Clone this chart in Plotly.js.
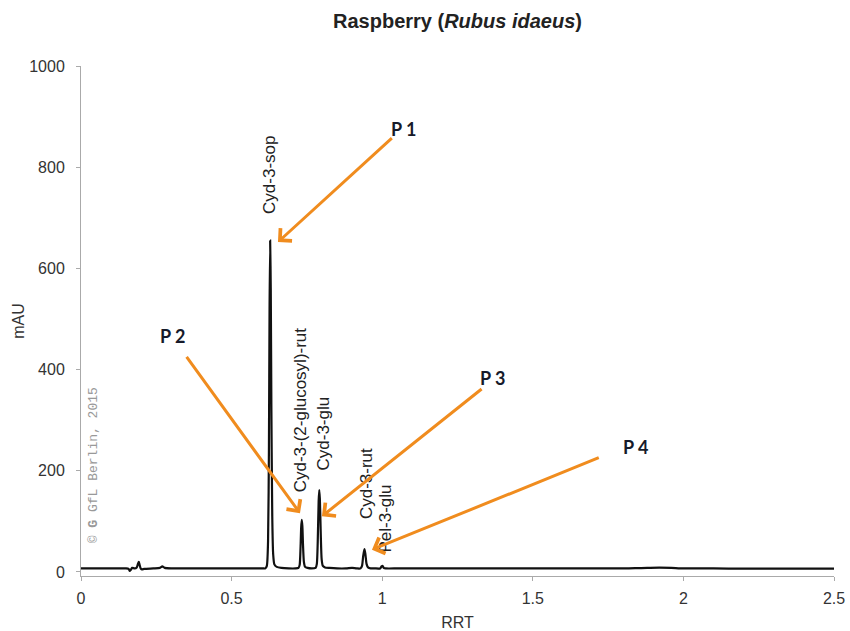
<!DOCTYPE html>
<html>
<head>
<meta charset="utf-8">
<script src="https://cdn.plot.ly/plotly-3.0.1.min.js"></script>
<style>html,body{margin:0;padding:0;background:#fff;}#chart{width:850px;height:631px;}</style>
</head>
<body>
<div id="chart"></div>
<script>
// Chromatogram trace (RRT vs mAU)
var rrt = [0, 0.05, 0.10, 0.15, 0.158, 0.162, 0.165, 0.170, 0.178, 0.185, 0.189, 0.192, 0.195, 0.198, 0.202, 0.210, 0.240, 0.262, 0.270, 0.278, 0.300, 0.350, 0.400, 0.450, 0.500, 0.550, 0.590, 0.605, 0.612, 0.617, 0.621, 0.624, 0.626, 0.628, 0.630, 0.632, 0.635, 0.638, 0.642, 0.650, 0.665, 0.690, 0.712, 0.722, 0.726, 0.729, 0.731, 0.733, 0.735, 0.737, 0.740, 0.744, 0.752, 0.765, 0.779, 0.783, 0.786, 0.789, 0.791, 0.793, 0.796, 0.799, 0.803, 0.810, 0.825, 0.850, 0.880, 0.900, 0.915, 0.928, 0.933, 0.937, 0.941, 0.944, 0.948, 0.953, 0.962, 0.975, 0.993, 0.998, 1.001, 1.005, 1.012, 1.050, 1.100, 1.200, 1.300, 1.400, 1.500, 1.600, 1.700, 1.800, 1.840, 1.880, 1.920, 1.960, 2.000, 2.100, 2.200, 2.300, 2.400, 2.500];
var mAU = [7, 7, 7, 7, 6, 2, 4, 8, 7, 9, 16, 20, 13, 7, 5, 6, 7, 8, 11, 8, 7, 7, 7, 7, 7, 7, 7, 7, 7, 12, 60, 250, 520, 655, 560, 330, 110, 35, 15, 10, 8, 7, 7, 8, 14, 50, 88, 103, 90, 55, 20, 10, 8, 7, 8, 16, 60, 140, 162, 145, 75, 25, 12, 9, 8, 7, 7, 8, 7, 7, 12, 32, 45, 36, 16, 9, 7, 7, 7, 11, 12, 8, 7, 7, 7, 7, 7, 7, 7, 7, 7, 7, 7.5, 8, 8.5, 8, 7, 7, 6.5, 6.5, 6.5, 6.5];

// Peak labels (rotated) and their anchor values
var peakNames = ["Cyd-3-sop", "Cyd-3-(2-glucosyl)-rut", "Cyd-3-glu", "Cyd-3-rut", "Pel-3-glu"];
var peakLabelRRT = [0.628, 0.728, 0.804, 0.950, 1.010];
var peakLabelMAU = [785, 320, 274, 174, 106];

// Callout arrows P 1..P 4: tail (label end) and head (peak)
var calloutNames = ["P 1", "P 2", "P 3", "P 4"];
var calloutTailRRT = [1.037, 0.347, 1.335, 1.724];
var calloutTailMAU = [860, 428, 364, 227];
var calloutHeadRRT = [0.654, 0.727, 0.800, 0.966];
var calloutHeadMAU = [652, 116, 110, 44];
var calloutTextRRT = [1.07, 0.305, 1.365, 1.84];
var calloutTextMAU = [876, 466, 383, 247];

var xTicks = [0, 0.5, 1, 1.5, 2, 2.5];
var xTickText = ["0", "0.5", "1", "1.5", "2", "2.5"];
var yTicks = [0, 200, 400, 600, 800, 1000];

var ORANGE = "#F08C1E";
var annotations = [];
for (var i = 0; i < peakNames.length; i++) {
  annotations.push({
    x: peakLabelRRT[i], y: peakLabelMAU[i], xref: "x", yref: "y",
    text: peakNames[i], textangle: -90, showarrow: false,
    xanchor: "center", yanchor: "middle",
    font: {family: "Liberation Sans, Arial, sans-serif", size: 17, color: "#222"}
  });
}
for (var j = 0; j < calloutNames.length; j++) {
  annotations.push({
    x: calloutHeadRRT[j], y: calloutHeadMAU[j], xref: "x", yref: "y",
    ax: calloutTailRRT[j], ay: calloutTailMAU[j], axref: "x", ayref: "y",
    text: "", showarrow: true, arrowhead: 4, arrowsize: 1.1, arrowwidth: 3,
    arrowcolor: ORANGE, standoff: 0, startstandoff: 0
  });
  annotations.push({
    x: calloutTextRRT[j], y: calloutTextMAU[j], xref: "x", yref: "y",
    text: "<b>" + calloutNames[j] + "</b>", showarrow: false,
    xanchor: "center", yanchor: "middle",
    font: {family: "Lato, Open Sans, sans-serif", size: 18, color: "#161a2a"}
  });
}
annotations.push({
  x: 0.04, y: 211, xref: "x", yref: "y",
  text: "© <b>G</b> GfL Berlin, 2015", textangle: -90, showarrow: false,
  xanchor: "center", yanchor: "middle",
  font: {family: "Liberation Mono, monospace", size: 13, color: "#999"}
});

var trace = {
  x: rrt, y: mAU, type: "scatter", mode: "lines",
  line: {color: "#111", width: 2.2, shape: "spline", smoothing: 0.6},
  hoverinfo: "skip"
};

var layout = {
  width: 850, height: 631,
  margin: {l: 81, r: 16, t: 66, b: 55},
  paper_bgcolor: "#fff", plot_bgcolor: "#fff",
  showlegend: false,
  font: {family: "Liberation Sans, Arial, sans-serif", size: 16, color: "#333"},
  title: {
    text: "<b>Raspberry (<i>Rubus idaeus</i>)</b>",
    x: 0.5, xref: "paper", xanchor: "center",
    y: 0.967, yref: "container", yanchor: "middle",
    font: {family: "Liberation Sans, Arial, sans-serif", size: 20, color: "#222"}
  },
  xaxis: {
    range: [0, 2.5], tickvals: xTicks, ticktext: xTickText,
    showgrid: false, zeroline: false, showline: true, linecolor: "#aaa", linewidth: 1,
    ticks: "outside", ticklen: 4, tickcolor: "#aaa", ticklabelstandoff: 4,
    tickfont: {size: 16, color: "#333"},
    title: {text: "RRT", standoff: 10, font: {size: 16, color: "#333"}}
  },
  yaxis: {
    range: [-8, 1000], tickvals: yTicks,
    showgrid: false, zeroline: false, showline: true, linecolor: "#aaa", linewidth: 1,
    ticks: "outside", ticklen: 4, tickcolor: "#aaa", ticklabelstandoff: 8,
    tickfont: {size: 16, color: "#333"},
    title: {text: "mAU", standoff: 0, font: {size: 16, color: "#333"}}
  },
  annotations: annotations
};

Plotly.newPlot("chart", [trace], layout, {displayModeBar: false, staticPlot: true});
</script>
</body>
</html>
